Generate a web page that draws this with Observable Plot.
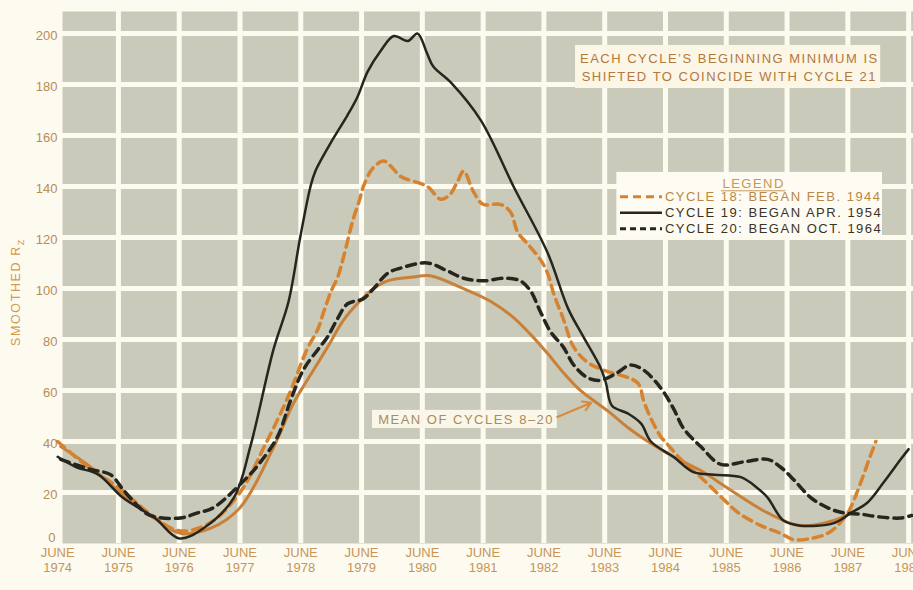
<!DOCTYPE html>
<html><head><meta charset="utf-8">
<script src="https://cdn.jsdelivr.net/npm/d3@7"></script>
<script src="https://cdn.jsdelivr.net/npm/@observablehq/plot@0.6"></script>
<style>
body{margin:0;background:#fdfbf0;}
#chart svg{display:block;}
</style></head><body><div id="chart"></div>
<script>
// x = years since June 1974
const xTicks = d3.range(0, 15);
const xTickYears = xTicks.map(i => 1974 + i);
const yTicks = d3.range(0, 201, 20);

const c18T = [0.0,0.5,1.0,1.5,2.0,2.5,3.0,3.4,3.8,4.1,4.28,4.38,4.5,4.6,4.7,4.86,4.97,5.03,5.18,5.36,5.48,5.64,6.08,6.3,6.46,6.58,6.68,6.84,7.0,7.28,7.45,7.57,7.75,7.95,8.06,8.16,8.32,8.49,8.72,8.98,9.54,9.64,9.76,9.92,10.03,10.25,10.58,10.97,11.2,11.57,11.89,12.11,12.4,12.67,12.83,13.0,13.1,13.26,13.38,13.46];
const c18V = [40,30,22,12,5,8,20,38,58,76,84,91,99,104,112,127,135,140,147,150,148,144,140,135,137,142,146,138,133,133,130,122,117,111,106,98,88,77,71,68,63,56,49,42,39,33,26,17,12,7,4,1.5,2,4,7,12,17,27,35,40];

const c19T = [0.0,0.3,0.67,1.07,1.6,2.0,2.4,2.9,3.17,3.55,3.8,3.99,4.16,4.24,4.54,4.77,4.93,5.10,5.31,5.53,5.76,5.92,6.08,6.18,6.46,6.96,7.5,8.06,8.4,8.65,8.93,9.02,9.12,9.38,9.6,9.76,10.13,10.46,10.8,11.24,11.5,11.68,11.94,12.22,12.77,13.05,13.32,13.59,13.87,14.0];
const c19V = [34,30,27,18,10,2,6,18,38,76,95,120,140,146,159,168,175,185,193,199,197,200,192,187,181,166,140,114,92,81,69,63,54,51,47,40,34,28,27,26,22,18,9,7,8,12,16,24,33,37];

const c20T = [0.05,0.54,0.87,1.08,1.31,1.52,2.02,2.30,2.56,3.12,3.34,3.62,3.83,4.04,4.28,4.44,4.6,4.77,5.03,5.2,5.43,5.64,6.08,6.4,6.68,7.01,7.34,7.61,7.78,7.94,8.11,8.32,8.49,8.72,8.93,9.21,9.42,9.64,9.92,10.13,10.3,10.58,10.91,11.29,11.68,11.89,12.11,12.39,12.67,12.93,13.21,13.49,13.87,14.05];
const c20V = [33,29,27,21,15,11,10,12,14,26,32,42,56,68,76,81,88,94,96,100,106,108,110,107,104,103,104,103,99,91,83,77,70,65,64,67,70,68,61,53,45,38,31,32,33,30,25,18,14,12,11.5,10.5,10,11];

const meanT = [0.05,0.54,1.03,1.53,2.02,2.52,3.0,3.55,3.88,4.21,4.44,4.70,4.93,5.2,5.43,5.85,6.13,6.67,7.12,7.5,7.78,8.06,8.32,8.60,9.05,9.38,9.71,10.13,10.58,11.07,11.68,12.22,12.77,13.05];
const meanV = [38,30,20,11,4,6,14,37.6,55,68,77,87.5,94,100,103,104.5,105,100,95,88.6,82,74.5,67,60,52,45.5,40,34,28.6,21,12,7,9,12];

const legendLabels = ["CYCLE 18: BEGAN FEB. 1944","CYCLE 19: BEGAN APR. 1954","CYCLE 20: BEGAN OCT. 1964"];
const noteLines = "EACH CYCLE\u2019S BEGINNING MINIMUM IS\nSHIFTED TO COINCIDE WITH CYCLE 21";
const meanLabel = "MEAN OF CYCLES 8\u201320";

const gray = "#c9cab9", white = "#fdfbf0";
const black = "#26261f", orange18 = "#d6822f", meanCol = "#c98139";
const tickCol = "#c6955a";

const legendRows = legendLabels.map((label, i) => ({label, y: 136 - i * 6.3}));

const chart = Plot.plot({
  width: 913, height: 590,
  marginLeft: 62, marginRight: 0, marginTop: 11, marginBottom: 47,
  x: {domain: [0.08, 14.08], axis: null},
  y: {domain: [0, 208.6], axis: null},
  style: {background: "transparent", fontFamily: "Liberation Sans, Arial, sans-serif"},
  marks: [
    Plot.frame({fill: gray, stroke: "none"}),
    Plot.ruleX(xTicks.filter(t => t > 0.08), {stroke: white, strokeWidth: 5}),
    Plot.ruleY(yTicks.filter(v => v > 0), {stroke: white, strokeWidth: 5}),
    // curves
    Plot.line(meanV, {x: meanT, y: meanV, stroke: meanCol, strokeWidth: 3, curve: "catmull-rom"}),
    Plot.line(c18V, {x: c18T, y: c18V, stroke: orange18, strokeWidth: 3.5, strokeDasharray: "9,6", curve: "catmull-rom"}),
    Plot.line(c20V, {x: c20T, y: c20V, stroke: black, strokeWidth: 3.5, strokeDasharray: "9,6", curve: "catmull-rom"}),
    Plot.line(c19V, {x: c19T, y: c19V, stroke: black, strokeWidth: 2.5, curve: "catmull-rom"}),
    // note box
    Plot.rect([0], {x1: 8.52, x2: 13.54, y1: 178.4, y2: 195.3, fill: "#fbf6e6"}),
    Plot.text([noteLines], {x: 11.05, y: 187.1, text: d => d, fill: "#b3783e", fontSize: 13, lineHeight: 1.4}),
    // legend box
    Plot.rect([0], {x1: 9.2, x2: 13.57, y1: 120.4, y2: 145.5, fill: "#fdfbf2"}),
    Plot.text(["LEGEND"], {x: 11.45, y: 141.2, text: d => d, fill: "#c99552", fontSize: 13}),
    Plot.ruleY([138.3], {x1: 10.92, x2: 11.98, stroke: "#c99552", strokeWidth: 1}),
    Plot.ruleY([legendRows[0].y], {x1: 9.26, x2: 9.95, stroke: orange18, strokeWidth: 3, strokeDasharray: "8,5"}),
    Plot.ruleY([legendRows[1].y], {x1: 9.26, x2: 9.95, stroke: black, strokeWidth: 2.5}),
    Plot.ruleY([legendRows[2].y], {x1: 9.26, x2: 9.95, stroke: black, strokeWidth: 3, strokeDasharray: "6,4"}),
    Plot.text(legendRows, {x: 9.99, y: "y", text: "label", textAnchor: "start", fontSize: 13,
      fill: (d, i) => i === 0 ? "#b98843" : "#3a3426"}),
    // mean label
    Plot.rect([0], {x1: 5.18, x2: 8.22, y1: 45.1, y2: 52.2, fill: "#fbf7e8"}),
    Plot.text([meanLabel], {x: 6.72, y: 48.6, text: d => d, fill: "#a68c5e", fontSize: 13}),
    Plot.arrow([0], {x1: 8.22, y1: 49.6, x2: 8.78, y2: 55.2, stroke: "#d98a40", strokeWidth: 2, headLength: 7}),
    // tick labels
    Plot.text(xTicks, {x: d => d, y: 0, text: (d, i) => `JUNE\n${xTickYears[i]}`, lineAnchor: "top", dy: 4,
      fill: tickCol, fontSize: 13, lineHeight: 1.08}),
    Plot.text(yTicks.filter(v => v > 0), {x: 0.08, y: d => d, text: d => String(d), textAnchor: "end", dx: -5, dy: 2,
      fill: "#b98c54", fontSize: 13}),
    Plot.text([0], {x: 0.08, y: d => d, text: d => String(d), textAnchor: "end", dx: -7, dy: -6,
      fill: "#b98c54", fontSize: 13})
  ]
});

const svg = d3.select(chart);
const spaced = new Set([...legendLabels, "LEGEND", meanLabel, noteLines.replace("\n", "")]);
svg.selectAll("text").each(function() {
  if (spaced.has(this.textContent)) this.setAttribute("letter-spacing", "1.5px");
});

const yl = svg.append("text")
  .attr("transform", "translate(20,292) rotate(-90)")
  .attr("text-anchor", "middle")
  .attr("fill", "#d39a4c")
  .attr("font-size", 12.5)
  .attr("letter-spacing", "1.6px")
  .attr("font-family", "Liberation Sans, Arial, sans-serif");
yl.append("tspan").text("SMOOTHED R");
yl.append("tspan").attr("dy", 4).attr("font-size", 9).text("Z");

document.getElementById("chart").appendChild(chart);
</script>
</body></html>
